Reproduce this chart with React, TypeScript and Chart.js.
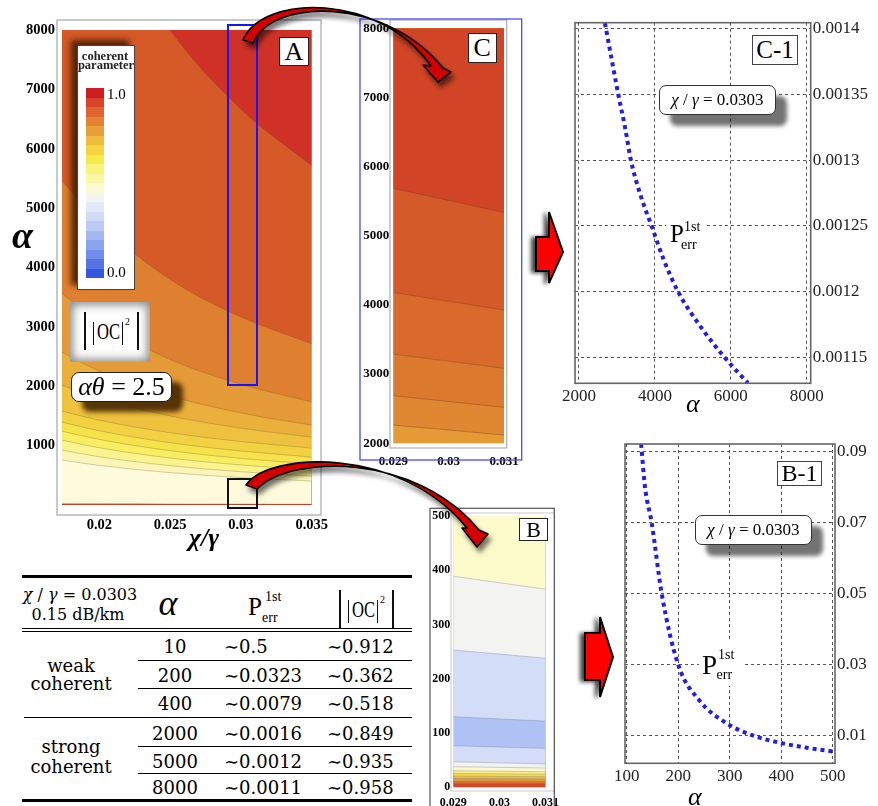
import React, { useEffect, useRef } from "react";
import { Chart, registerables } from "chart.js";

Chart.register(...registerables);

const SERIF = "'Liberation Serif', 'Times New Roman', serif";
const DSERIF = "'DejaVu Serif', serif";

// ---------------- Panel A : |OC|^2 contour (alpha vs chi/gamma) ----------------
const aChi = [0.01736, 0.02, 0.025, 0.03, 0.035];
const aLevel095 = [11500, 10000, 8000, 6667, 5714];
const aLevel090 = [5460, 4750, 3800, 3167, 2714];
const aLevel085 = [3563, 3082, 2451, 2034, 1736];
const aLevel080 = [2571, 2255, 1836, 1550, 1345];
const aLevel075 = [2017, 1799, 1501, 1295, 1143];
const aLevel070 = [1580, 1428, 1218, 1069, 958];
const aLevel065 = [1395, 1249, 1049, 910, 807];
const aLevel060 = [1244, 1104, 915, 785, 689];
const aLevel055 = [1092, 964, 791, 674, 588];
const aLevel050 = [924, 812, 662, 561, 487];
const aLevel045 = [756, 666, 545, 463, 403];
const aLevelLow = [22, 20, 18, 16, 15];
const aBandColors = ["#CF3127", "#D55A27", "#DE802F", "#E49A36", "#EAB03B", "#EEC23E", "#F2D242", "#F6E24A", "#F9EE62", "#FAF38E", "#FBF6B8", "#FDFBDC", "#C4452A"];
const aXTicks = [0.02, 0.025, 0.03, 0.035];
const aYTicks = [1000, 2000, 3000, 4000, 5000, 6000, 7000, 8000];

// ---------------- Panel C : zoom 0.029-0.031, alpha 2000-8000 ----------------
const cChi = [0.029, 0.031];
const cLevel1 = [5685, 5338];
const cLevel2 = [4182, 3926];
const cLevel3 = [3290, 3084];
const cLevel4 = [2688, 2520];
const cLevel5 = [2264, 2120];
const cBandColors = ["#D14526", "#D55A29", "#D96A2B", "#DB7A2E", "#DF8831", "#E49A35"];
const cXTicks = [0.029, 0.03, 0.031];
const cYTicks = [2000, 3000, 4000, 5000, 6000, 7000, 8000];

// ---------------- Panel B : zoom 0.029-0.031, alpha 0-500 ----------------
const bChi = [0.029, 0.031];
const bLevels = [[389, 365], [253, 238], [130, 122], [76.6, 71.8], [47, 43], [38, 35.5], [30.5, 28.6], [25.7, 24.1], [20.8, 19.5], [16.5, 15.5], [11.6, 10.9], [7.4, 6.9]];
const bBandColors = ["#FDFBCB", "#F3F4F1", "#D3DDF8", "#AFC2F4", "#D3DDF8", "#F3F4F1", "#FCF8D2", "#FAF08C", "#F6DD4C", "#EFC03E", "#E69C36", "#DC722F", "#D2462A"];
const bXTicks = [0.029, 0.03, 0.031];
const bYTicks = [0, 100, 200, 300, 400, 500];

// ---------------- Panel C-1 : P_err vs alpha (strong) ----------------
const c1Alpha = [2684, 2816, 3034, 3211, 3368, 3605, 3913, 4218, 4613, 5139, 5842, 6455];
const c1Perr = [0.001404, 0.0013835, 0.00135, 0.0013253, 0.0013, 0.0012748, 0.00125, 0.0012255, 0.0012, 0.0011762, 0.00115, 0.0011307];
const c1XTicks = [2000, 4000, 6000, 8000];
const c1YTicks = [0.00115, 0.0012, 0.00125, 0.0013, 0.00135, 0.0014];

// ---------------- Panel B-1 : P_err vs alpha (weak) ----------------
const b1Alpha = [128, 135.5, 148.5, 168, 200, 242, 294, 346, 398, 450, 503];
const b1Perr = [0.0922, 0.0801, 0.07, 0.05, 0.03, 0.0198, 0.0135, 0.01, 0.008, 0.0066, 0.0055];
const b1XTicks = [100, 200, 300, 400, 500];
const b1YTicks = [0.01, 0.03, 0.05, 0.07, 0.09];

// ---------------- Table ----------------
const tableAlpha = ["10", "200", "400", "2000", "5000", "8000"];
const tablePerr = ["0.5", "0.0323", "0.0079", "0.0016", "0.0012", "0.0011"];
const tableOC = ["0.912", "0.362", "0.518", "0.849", "0.935", "0.958"];

const colorbarColors = ["#CC1E1E", "#D8432A", "#DD652E", "#E38334", "#E99F39", "#EFBB3C", "#F4D53F", "#F7E94A", "#FAF37A", "#FBF7A6", "#FCFAD0", "#F4F5F1", "#E3E9F9", "#D1DBF7", "#BCCBF5", "#A5B8F2", "#8CA3EE", "#728DEA", "#5575E5", "#3658DF"];

const fmt = (v: number) => String(parseFloat(Number(v).toPrecision(6)));

function framePlugin(rects: any[], areaStroke?: any) {
  return {
    id: "frames",
    afterDraw(chart: any) {
      const ctx = chart.ctx;
      ctx.save();
      for (const r of rects) {
        ctx.strokeStyle = r.color;
        ctx.lineWidth = r.lw;
        ctx.strokeRect(r.x0, r.y0, r.x1 - r.x0, r.y1 - r.y0);
      }
      if (areaStroke) {
        const a = chart.chartArea;
        ctx.strokeStyle = areaStroke.color;
        ctx.lineWidth = areaStroke.lw;
        ctx.strokeRect(a.left, a.top, a.right - a.left, a.bottom - a.top);
      }
      ctx.restore();
    },
  };
}

function areaBgPlugin(color: string) {
  return {
    id: "areaBg",
    beforeDatasetsDraw(chart: any) {
      const { ctx, chartArea: a } = chart;
      ctx.save();
      ctx.fillStyle = color;
      ctx.fillRect(a.left, a.top, a.right - a.left, a.bottom - a.top);
      ctx.restore();
    },
  };
}

function contourConfig(p: any) {
  return {
    type: "line",
    data: {
      datasets: p.levels.map((lv: number[], i: number) => ({
        data: p.xs.map((x: number, j: number) => ({ x, y: lv[j] })),
        fill: "end",
        backgroundColor: p.colors[i],
        borderColor: p.lineColor,
        borderWidth: 0.8,
        pointRadius: 0,
        cubicInterpolationMode: "monotone",
      })),
    },
    options: {
      animation: false,
      responsive: false,
      devicePixelRatio: 1,
      events: [],
      layout: { padding: p.pad },
      plugins: { legend: { display: false }, tooltip: { enabled: false } },
      scales: {
        x: {
          type: "linear",
          min: p.xMin,
          max: p.xMax,
          afterFit: (s: any) => { s.height = p.xAxisH; },
          afterBuildTicks: (s: any) => { s.ticks = p.xTicks.map((v: number) => ({ value: v })); },
          ticks: { font: p.font, color: "#000", padding: p.xPad, maxRotation: 0, autoSkip: false, callback: (v: any) => fmt(v) },
          grid: { display: false, drawTicks: false },
          border: { display: false },
        },
        y: {
          type: "linear",
          min: p.yMin,
          max: p.yMax,
          afterFit: (s: any) => { s.width = p.yAxisW; },
          afterBuildTicks: (s: any) => { s.ticks = p.yTicks.map((v: number) => ({ value: v })); },
          ticks: { font: p.font, color: "#000", padding: p.yPad, autoSkip: false, callback: (v: any) => fmt(v) },
          grid: { display: false, drawTicks: false },
          border: { display: false },
        },
      },
    },
    plugins: [areaBgPlugin(p.colors[p.colors.length - 1]), framePlugin(p.frames)],
  };
}

function lineConfig(p: any) {
  const tickFont = { family: SERIF, size: 17 };
  return {
    type: "line",
    data: {
      datasets: [
        {
          data: p.xs.map((x: number, i: number) => ({ x, y: p.ys[i] })),
          borderColor: "#1F1FE8",
          borderWidth: 4,
          borderDash: [4, 4],
          borderCapStyle: "butt",
          pointRadius: 0,
          fill: false,
          cubicInterpolationMode: "monotone",
        },
      ],
    },
    options: {
      animation: false,
      responsive: false,
      devicePixelRatio: 1,
      events: [],
      layout: { padding: p.pad },
      plugins: { legend: { display: false }, tooltip: { enabled: false } },
      scales: {
        x: {
          type: "linear",
          min: p.xMin,
          max: p.xMax,
          afterFit: (s: any) => { s.height = p.xAxisH; },
          afterBuildTicks: (s: any) => { s.ticks = p.xTicks.map((v: number) => ({ value: v })); },
          ticks: { font: tickFont, color: "#222", padding: 3, maxRotation: 0, autoSkip: false, callback: (v: any) => fmt(v) },
          grid: { color: "#555", lineWidth: 1, drawTicks: false },
          border: { display: false, dash: [3, 3] },
        },
        y: {
          type: "linear",
          position: "right",
          min: p.yMin,
          max: p.yMax,
          afterFit: (s: any) => { s.width = p.yAxisW; },
          afterBuildTicks: (s: any) => { s.ticks = p.yTicks.map((v: number) => ({ value: v })); },
          ticks: { font: tickFont, color: "#222", padding: 2, autoSkip: false, callback: (v: any) => fmt(v) },
          grid: { color: "#555", lineWidth: 1, drawTicks: false },
          border: { display: false, dash: [3, 3] },
        },
      },
    },
    plugins: [framePlugin([], { color: "#666", lw: 1.6 })],
  };
}

const buildA = () =>
  contourConfig({
    xs: aChi,
    levels: [aLevel095, aLevel090, aLevel085, aLevel080, aLevel075, aLevel070, aLevel065, aLevel060, aLevel055, aLevel050, aLevel045, aLevelLow],
    colors: aBandColors,
    lineColor: "rgba(110,80,50,0.35)",
    xMin: 0.01736, xMax: 0.035, yMin: 0, yMax: 8000,
    xTicks: aXTicks, yTicks: aYTicks,
    pad: { left: 0, top: 30, right: 24, bottom: 0 },
    yAxisW: 62, xAxisH: 40, xPad: 12, yPad: 7,
    font: { family: SERIF, size: 14.5, weight: "bold" },
    frames: [{ x0: 57, y0: 20, x1: 321, y1: 515, color: "#B8B8B8", lw: 1.5 }],
  });

const buildC = () =>
  contourConfig({
    xs: cChi,
    levels: [cLevel1, cLevel2, cLevel3, cLevel4, cLevel5],
    colors: cBandColors,
    lineColor: "rgba(110,60,30,0.45)",
    xMin: 0.029, xMax: 0.031, yMin: 2000, yMax: 8000,
    xTicks: cXTicks, yTicks: cYTicks,
    pad: { left: 0, top: 28.3, right: 26, bottom: 0 },
    yAxisW: 38.3, xAxisH: 31.7, xPad: 11, yPad: 4,
    font: { family: SERIF, size: 13, weight: "bold" },
    frames: [
      { x0: 35, y0: 20, x1: 151.7, y1: 448, color: "#B0B0B0", lw: 1.2 },
      { x0: 5, y0: 19, x1: 166.7, y1: 460, color: "#4A4AF5", lw: 1.3 },
    ],
  });

const buildB = () =>
  contourConfig({
    xs: bChi,
    levels: bLevels,
    colors: bBandColors,
    lineColor: "rgba(120,120,150,0.45)",
    xMin: 0.029, xMax: 0.031, yMin: 0, yMax: 500,
    xTicks: bXTicks, yTicks: bYTicks,
    pad: { left: 0, top: 16, right: 14.7, bottom: 0 },
    yAxisW: 38.3, xAxisH: 18.7, xPad: 8, yPad: 3,
    font: { family: SERIF, size: 12, weight: "bold" },
    frames: [
      { x0: 36, y0: 13, x1: 139.5, y1: 291, color: "#C8C8C8", lw: 1 },
      { x0: 15, y0: 8.3, x1: 139.3, y1: 330, color: "#555", lw: 1.2 },
    ],
  });

const buildC1 = () =>
  lineConfig({
    xs: c1Alpha, ys: c1Perr,
    xMin: 1895, xMax: 8105, yMin: 0.0011306, yMax: 0.0014043,
    xTicks: c1XTicks, yTicks: c1YTicks,
    pad: { left: 20, top: 22.7, right: 0, bottom: 0 },
    yAxisW: 67.3, xAxisH: 36.7,
  });

const buildB1 = () =>
  lineConfig({
    xs: b1Alpha, ys: b1Perr,
    xMin: 96.7, xMax: 504.5, yMin: 0.00222, yMax: 0.0922,
    xTicks: b1XTicks, yTicks: b1YTicks,
    pad: { left: 25, top: 24, right: 0, bottom: 0 },
    yAxisW: 43, xAxisH: 42.7,
  });

function ChartCanvas({ left, top, width, height, build }: any) {
  const ref = useRef<HTMLCanvasElement>(null);
  useEffect(() => {
    const chart = new Chart(ref.current as any, build() as any);
    return () => chart.destroy();
  }, []);
  return <canvas ref={ref} width={width} height={height} style={{ position: "absolute", left, top, width, height }} />;
}

// text positioned by baseline
function T({ x, b, size, children, style, family }: any) {
  return (
    <div style={{ position: "absolute", left: x, top: b - 0.84 * size, fontSize: size, lineHeight: `${size}px`, fontFamily: family || SERIF, whiteSpace: "nowrap", ...style }}>
      {children}
    </div>
  );
}

// centered text by baseline
function TC({ cx, b, size, children, style, family }: any) {
  return (
    <div style={{ position: "absolute", left: cx - 100, width: 200, textAlign: "center", top: b - 0.84 * size, fontSize: size, lineHeight: `${size}px`, fontFamily: family || SERIF, whiteSpace: "nowrap", ...style }}>
      {children}
    </div>
  );
}

function Box({ x, y, w, h, style, children }: any) {
  return (
    <div style={{ position: "absolute", left: x, top: y, width: w, height: h, boxSizing: "border-box", background: "#fff", ...style }}>
      {children}
    </div>
  );
}

function VBar({ x, y0, y1, w }: any) {
  return <div style={{ position: "absolute", left: x, top: y0, width: w || 1.4, height: y1 - y0, background: "#111" }} />;
}

function HLine({ x0, x1, y, h }: any) {
  return <div style={{ position: "absolute", left: x0, top: y, width: x1 - x0, height: h, background: "#000" }} />;
}

function OCSymbol({ ox, oy }: any) {
  return (
    <>
      <VBar x={ox} y0={oy} y1={oy + 38} w={1.5} />
      <VBar x={ox + 53} y0={oy} y1={oy + 38} w={1.5} />
      <VBar x={ox + 9} y0={oy + 10} y1={oy + 33} w={1.3} />
      <VBar x={ox + 38} y0={oy + 10} y1={oy + 33} w={1.3} />
      <T x={ox + 12.5} b={oy + 27} size={23} style={{ transform: "scaleX(0.72)", transformOrigin: "0 0" }}>OC</T>
      <T x={ox + 41} b={oy + 13} size={10}>2</T>
    </>
  );
}

function ChiGammaBox({ x, y }: any) {
  return (
    <Box x={x} y={y} w={117} h={30} style={{ border: "1px solid #333", borderRadius: 7, boxShadow: "11px 11px 4px rgba(0,0,0,0.55)", display: "flex", alignItems: "center", justifyContent: "center", fontFamily: SERIF, fontSize: 17 }}>
      <span><i>χ</i> / <i>γ</i> = 0.0303</span>
    </Box>
  );
}

function Arrows() {
  return (
    <svg width={878} height={806} style={{ position: "absolute", left: 0, top: 0, pointerEvents: "none" }}>
      <defs>
        <filter id="rsh" x="-20%" y="-30%" width="140%" height="160%">
          <feDropShadow dx="3" dy="5" stdDeviation="2.5" floodColor="#000" floodOpacity="0.55" />
        </filter>
        <filter id="bsh" x="-40%" y="-20%" width="180%" height="140%">
          <feDropShadow dx="-4" dy="1" stdDeviation="2.2" floodColor="#000" floodOpacity="0.75" />
        </filter>
      </defs>
      <path d="M 243 40 C 262 -6 380 -8 431 66 L 423 65 L 438 82 L 451 72 L 443 68 C 385 -4 272 -2 253 43 Z" fill="#D40000" stroke="#000" strokeWidth={1.6} strokeLinejoin="round" filter="url(#rsh)" />
      <path d="M 246 485 C 268 452 400 445 467 528 L 462 528 L 477 547 L 488 534 L 479 530 C 415 452 290 455 257 489 Z" fill="#D40000" stroke="#000" strokeWidth={1.6} strokeLinejoin="round" filter="url(#rsh)" />
      <polygon points="536,237 549,237 549,212 563,252 549,283 549,271 536,271" fill="#FF0000" stroke="#000" strokeWidth={2} filter="url(#bsh)" />
      <polygon points="585,633 600,633 600,617 613,657 600,697 600,680 585,680" fill="#FF0000" stroke="#000" strokeWidth={2} filter="url(#bsh)" />
    </svg>
  );
}

function Table() {
  const rowC = [647, 675.3, 704, 734, 762, 788];
  return (
    <>
      <HLine x0={22} x1={412} y={575} h={3} />
      <TC cx={80} b={600} size={16} family={DSERIF}><i>χ</i> / <i>γ</i> = 0.0303</TC>
      <TC cx={78} b={620} size={16} family={DSERIF}>0.15 dB/km</TC>
      <TC cx={168} b={615} size={36} style={{ fontStyle: "italic" }}>α</TC>
      <T x={248} b={615} size={25}>P</T>
      <T x={265} b={601.7} size={14}>1st</T>
      <T x={262} b={623} size={14}>err</T>
      <OCSymbol ox={339} oy={590} />
      <HLine x0={22} x1={412} y={628} h={1.3} />
      <HLine x0={22} x1={412} y={631} h={1.3} />
      <TC cx={71} b={671.7} size={18} family={DSERIF}>weak</TC>
      <TC cx={71} b={690.5} size={18} family={DSERIF}>coherent</TC>
      <TC cx={71} b={753} size={18} family={DSERIF}>strong</TC>
      <TC cx={71} b={773} size={18} family={DSERIF}>coherent</TC>
      {tableAlpha.map((a, i) => (
        <TC key={"a" + i} cx={175} b={rowC[i] + 6.6} size={18} family={DSERIF}>{a}</TC>
      ))}
      {tablePerr.map((p, i) => (
        <T key={"p" + i} x={224} b={rowC[i] + 6.6} size={18} family={DSERIF}>∼{p}</T>
      ))}
      {tableOC.map((p, i) => (
        <T key={"o" + i} x={327} b={rowC[i] + 6.6} size={18} family={DSERIF}>∼{p}</T>
      ))}
      <HLine x0={138} x1={412} y={659.5} h={1} />
      <HLine x0={138} x1={412} y={688} h={1} />
      <HLine x0={24} x1={412} y={716.5} h={1.5} />
      <HLine x0={138} x1={412} y={746.2} h={1} />
      <HLine x0={138} x1={412} y={773} h={1} />
      <HLine x0={22} x1={412} y={798.5} h={3} />
    </>
  );
}

export default function App() {
  return (
    <div style={{ position: "absolute", left: 0, top: 0, width: 878, height: 806, overflow: "hidden", background: "#fff", color: "#000", fontFamily: SERIF }}>
      <ChartCanvas left={0} top={0} width={340} height={545} build={buildA} />
      <ChartCanvas left={355} top={0} width={175} height={475} build={buildC} />
      <ChartCanvas left={415} top={500} width={152} height={306} build={buildB} />
      <ChartCanvas left={555} top={0} width={323} height={420} build={buildC1} />
      <ChartCanvas left={600} top={420} width={278} height={386} build={buildB1} />

      {/* Panel A decorations */}
      <T x={12} b={248} size={38} style={{ fontStyle: "italic", fontWeight: "bold" }}>α</T>
      <T x={189} b={547} size={26} style={{ fontStyle: "italic", fontWeight: "bold" }}>χ/γ</T>
      <Box x={77} y={45} w={58} h={245} style={{ border: "1px solid #444", boxShadow: "-6px -5px 6px rgba(70,25,0,0.9)" }} />
      <TC cx={105} b={60} size={12.5} style={{ fontWeight: "bold", color: "#222" }}>coherent</TC>
      <TC cx={106} b={69.5} size={12.5} style={{ fontWeight: "bold", color: "#222" }}>parameter</TC>
      {colorbarColors.map((c, i) => (
        <div key={i} style={{ position: "absolute", left: 86, top: 88.3 + i * 9.5, width: 18, height: 9.6, background: c }} />
      ))}
      <T x={107} b={100} size={15}>1.0</T>
      <T x={107} b={278} size={15}>0.0</T>
      <Box x={70} y={302} w={80} h={60} style={{ boxShadow: "inset 0 0 8px 3px rgba(0,0,0,0.45)" }} />
      <OCSymbol ox={84} oy={312} />
      <Box x={71} y={372} w={101} h={30} style={{ border: "1px solid #222", borderRadius: 8, boxShadow: "11px 10px 5px rgba(60,30,0,0.85)", display: "flex", alignItems: "center", justifyContent: "center", fontSize: 26, fontFamily: SERIF }}>
        <span><i>αθ</i> = 2.5</span>
      </Box>
      <Box x={279} y={37} w={30} h={29} style={{ border: "1px solid #222", display: "flex", alignItems: "center", justifyContent: "center", fontSize: 26 }}>A</Box>
      <div style={{ position: "absolute", left: 227, top: 24, width: 31, height: 362, border: "2.5px solid #1515F5", boxSizing: "border-box" }} />
      <div style={{ position: "absolute", left: 227, top: 478, width: 31, height: 31, border: "2px solid #111", boxSizing: "border-box" }} />

      {/* Panel C / B labels */}
      <Box x={468} y={33} w={28.5} h={30} style={{ border: "1px solid #222", display: "flex", alignItems: "center", justifyContent: "center", fontSize: 26 }}>C</Box>
      <Box x={519} y={518} w={29} h={23} style={{ border: "1px solid #222", display: "flex", alignItems: "center", justifyContent: "center", fontSize: 22 }}>B</Box>

      {/* Panel C-1 */}
      <Box x={752} y={35} w={46} h={30} style={{ border: "1.5px solid #444", display: "flex", alignItems: "center", justifyContent: "center", fontSize: 25 }}>C-1</Box>
      <ChiGammaBox x={659} y={85} />
      <Box x={666} y={214} w={40} h={40} style={{ background: "#fff" }} />
      <T x={670} b={241.5} size={25}>P</T>
      <T x={684} b={231.7} size={14}>1st</T>
      <T x={681} b={250} size={14}>err</T>
      <T x={686} b={413} size={26} style={{ fontStyle: "italic" }}>α</T>

      {/* Panel B-1 */}
      <Box x={777} y={461} w={45} h={25} style={{ border: "1.5px solid #444", display: "flex", alignItems: "center", justifyContent: "center", fontSize: 24 }}>B-1</Box>
      <ChiGammaBox x={695} y={515} />
      <Box x={699} y={641} w={43} h={45} style={{ background: "#fff" }} />
      <T x={702} b={675} size={27}>P</T>
      <T x={718} b={660} size={14}>1st</T>
      <T x={716.5} b={680} size={14}>err</T>
      <T x={688} b={806} size={26} style={{ fontStyle: "italic" }}>α</T>

      <Table />
      <Arrows />
    </div>
  );
}
